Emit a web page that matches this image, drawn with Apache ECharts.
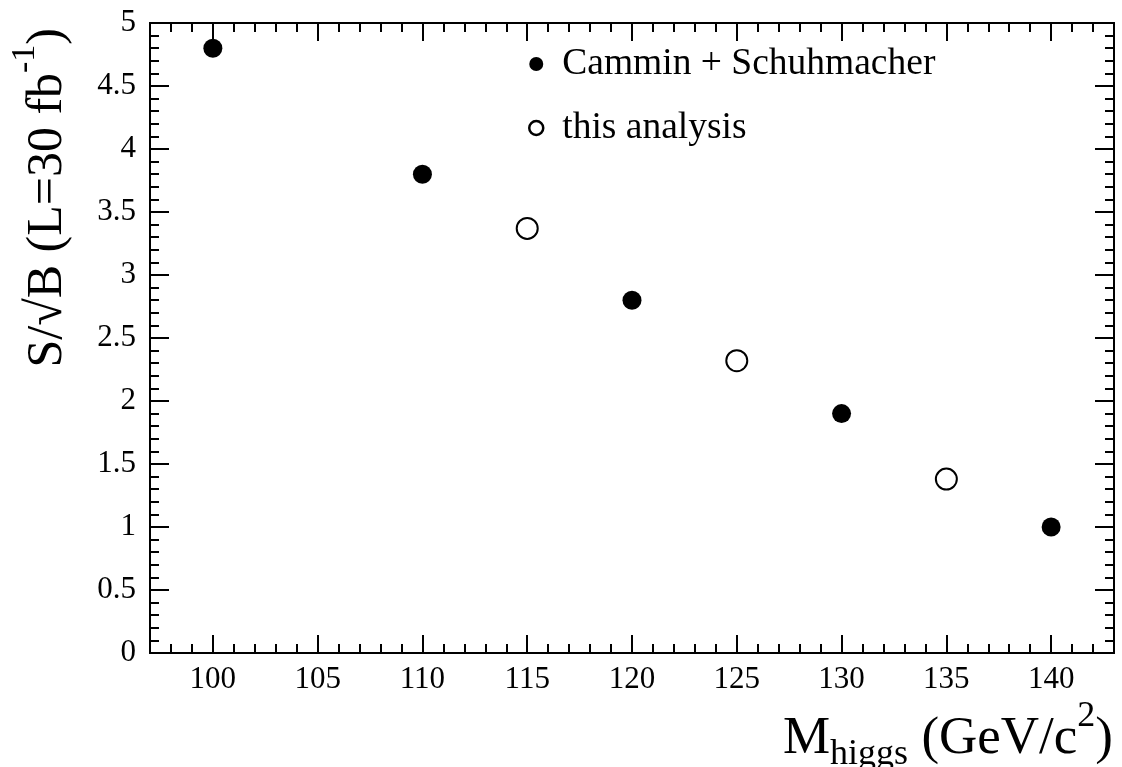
<!DOCTYPE html>
<html>
<head>
<meta charset="utf-8">
<script src="https://cdn.jsdelivr.net/npm/echarts@6/dist/echarts.min.js"></script>
<style>
  html, body { margin: 0; padding: 0; background: #fff; }
  #chart { width: 1122px; height: 767px; }
</style>
</head>
<body>
<div id="chart"></div>
<script>
// Higgs mass points and expected significance at 30 fb^-1
const massRef = [100, 110, 120, 130, 140];
const signifRef = [4.8, 3.8, 2.8, 1.9, 1.0];
const massThis = [115, 125, 135];
const signifThis = [3.37, 2.32, 1.38];

// Axis ranges and tick labelling
const xMin = 97, xMax = 143;
const xMajorTicks = [100, 105, 110, 115, 120, 125, 130, 135, 140];
const yMin = 0, yMax = 5, yStep = 0.5;

const nameRef = 'Cammin + Schuhmacher';
const nameThis = 'this analysis';

const FONT = '"Liberation Serif", "DejaVu Serif", serif';
const INK = '#000';
const LW = 2;

const chart = echarts.init(document.getElementById('chart'), null, { renderer: 'canvas' });

function xAxisFrame(position, major, showLabels) {
  return {
    type: 'value',
    position: position,
    min: xMin,
    max: xMax,
    interval: major ? undefined : 1,
    axisLine: { show: true, onZero: false, lineStyle: { color: INK, width: LW } },
    axisTick: major
      ? { show: true, inside: true, length: 18, customValues: xMajorTicks, lineStyle: { color: INK, width: LW } }
      : { show: true, inside: true, length: 9, lineStyle: { color: INK, width: LW } },
    axisLabel: showLabels
      ? { show: true, customValues: xMajorTicks, margin: 11, color: INK, fontFamily: FONT, fontSize: 31 }
      : { show: false },
    splitLine: { show: false }
  };
}

function yAxisFrame(position, showLabels) {
  return {
    type: 'value',
    position: position,
    min: yMin,
    max: yMax,
    interval: yStep,
    axisLine: { show: true, onZero: false, lineStyle: { color: INK, width: LW } },
    axisTick: { show: true, inside: true, length: 19, lineStyle: { color: INK, width: LW } },
    minorTick: { show: true, splitNumber: 5, length: 9, lineStyle: { color: INK, width: LW } },
    axisLabel: showLabels
      ? { show: true, margin: 14, color: INK, fontFamily: FONT, fontSize: 31 }
      : { show: false },
    splitLine: { show: false },
    minorSplitLine: { show: false }
  };
}

const option = {
  backgroundColor: '#fff',
  animation: false,
  grid: { left: 150, right: 8, top: 23, bottom: 114, containLabel: false },
  xAxis: [
    xAxisFrame('bottom', true, true),
    xAxisFrame('bottom', false, false),
    xAxisFrame('top', true, false),
    xAxisFrame('top', false, false)
  ],
  yAxis: [
    yAxisFrame('left', true),
    yAxisFrame('right', false)
  ],
  legend: {
    orient: 'vertical',
    left: 523,
    top: 40,
    itemWidth: 14,
    itemHeight: 14,
    itemGap: 26,
    textStyle: { color: INK, fontFamily: FONT, fontSize: 37.5, padding: [0, 0, 0, 14] },
    data: [
      { name: nameRef, icon: 'circle', itemStyle: { color: INK, borderWidth: 0, opacity: 1 } },
      { name: nameThis, icon: 'circle', itemStyle: { color: '#fff', borderColor: INK, borderWidth: 2.5, opacity: 1 } }
    ]
  },
  series: [
    {
      name: nameRef,
      type: 'scatter',
      xAxisIndex: 0,
      yAxisIndex: 0,
      symbol: 'circle',
      symbolSize: 19,
      itemStyle: { color: INK, opacity: 1 },
      data: massRef.map((m, i) => [m, signifRef[i]])
    },
    {
      name: nameThis,
      type: 'scatter',
      xAxisIndex: 0,
      yAxisIndex: 0,
      symbol: 'circle',
      symbolSize: 21,
      itemStyle: { color: '#fff', borderColor: INK, borderWidth: 2, opacity: 1 },
      data: massThis.map((m, i) => [m, signifThis[i]])
    }
  ],
  graphic: [
    {
      // x-axis title, right-aligned to the frame
      type: 'text',
      x: 1113,
      y: 739,
      style: {
        text: '{m|M}{s|higgs}{m| (GeV/c}{p|2}{m|)}',
        align: 'right',
        verticalAlign: 'middle',
        fill: INK,
        rich: {
          m: { fontFamily: FONT, fontSize: 53, lineHeight: 80, verticalAlign: 'middle', fill: INK },
          s: { fontFamily: FONT, fontSize: 36, lineHeight: 60, verticalAlign: 'bottom', padding: [0, 0, 6, 0], fill: INK },
          p: { fontFamily: FONT, fontSize: 36, lineHeight: 32, verticalAlign: 'top', fill: INK }
        }
      }
    },
    {
      // y-axis title, rotated and aligned to the top of the frame
      type: 'text',
      x: 48,
      y: 28,
      rotation: Math.PI / 2,
      style: {
        text: '{m|S/√B (L=30 fb}{p|-1}{m|)}',
        align: 'right',
        verticalAlign: 'middle',
        fill: INK,
        rich: {
          m: { fontFamily: FONT, fontSize: 50, lineHeight: 80, verticalAlign: 'middle', fill: INK },
          p: { fontFamily: FONT, fontSize: 34, lineHeight: 34, verticalAlign: 'top', fill: INK }
        }
      }
    }
  ]
};

chart.setOption(option);
</script>
</body>
</html>
